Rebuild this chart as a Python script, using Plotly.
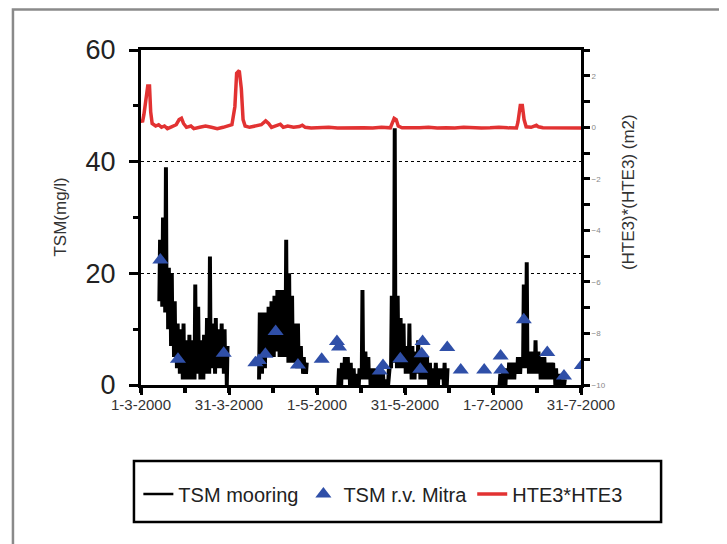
import plotly.graph_objects as go

# ---------------- data ----------------
# x axis: days since 1-3-2000
x_tick_vals = [0, 30, 60, 90, 120, 150]
x_tick_text = ["1-3-2000", "31-3-2000", "1-5-2000", "31-5-2000", "1-7-2000", "31-7-2000"]

# TSM mooring (mg/l): daily min / max envelope of the high-frequency record
mooring_day = [6, 7, 8, 9, 10, 11, 12, 13, 14, 15, 16, 17, 18, 19, 20, 21, 22, 23, 24, 25, 26, 27, 28, 29,
               40, 41, 42, 43, 44, 45, 46, 47, 48, 49, 50, 51, 52, 53, 54, 55, 56,
               67, 68, 69, 70, 71, 72, 73, 74, 75, 76, 77, 78, 79, 80, 81, 82, 83, 84, 85, 86, 87, 88, 89,
               90, 91, 92, 93, 94, 95, 96, 97, 98, 99, 100, 101, 102, 103, 104,
               122, 123, 124, 125, 126, 127, 128, 129, 130, 131, 132, 133, 134, 135, 136, 137, 138, 139,
               140, 141, 142, 143, 144]
mooring_low = [15, 14, 13, 10, 7, 5, 3, 2, 1, 1, 1, 1, 1, 2, 1, 1, 2, 2, 3, 2, 3, 3, 2, 0,
               1, 2, 3, 5, 5, 5, 6, 5, 5, 5, 4, 4, 4, 3, 3, 2, 2,
               0, 0, 1, 1, 0, 0, 0, 0, 1, 1, 1, 0, 0, 0, 0, 0, 0, 0, 3, 4, 3, 3, 3,
               2, 2, 1, 1, 2, 1, 1, 1, 0, 0, 0, 0, 1, 0, 0,
               0, 0, 0, 1, 1, 1, 2, 2, 3, 3, 2, 2, 2, 2, 1, 1, 1, 1,
               1, 0, 0, 0, 0]
mooring_high = [26, 30, 39, 21, 20, 15, 11, 10, 11, 8, 9, 8, 18, 14, 8, 9, 12, 23, 11, 12, 10, 11, 10, 7,
                13, 13, 13, 14, 15, 16, 17, 17, 17, 26, 20, 16, 11, 11, 7, 5, 4,
                3, 4, 5, 5, 4, 3, 2, 3, 17, 6, 5, 3, 3, 2, 3, 2, 1, 3, 16, 46, 16, 12, 11,
                7, 11, 7, 6, 8, 6, 5, 5, 4, 3, 4, 3, 3, 4, 3,
                2, 3, 3, 4, 4, 4, 5, 5, 18, 22, 6, 6, 8, 6, 5, 5, 4, 4,
                4, 3, 2, 1, 1]

# TSM r.v. Mitra (mg/l)
mitra_day = [6.6, 12.6, 28.2, 39.0, 40.2, 42.4, 45.9, 53.5, 61.6, 66.8, 67.5, 81.4, 82.5, 88.4,
             95.2, 95.7, 96.0, 104.4, 109.0, 117.0, 122.6, 122.8, 130.5, 138.5, 144.2, 150.3]
mitra_val = [22.4, 4.6, 5.7, 4.0, 4.4, 5.5, 9.6, 3.6, 4.6, 7.8, 6.8, 2.5, 3.5, 4.7,
             2.8, 5.6, 7.8, 6.7, 2.7, 2.7, 5.2, 2.7, 11.7, 5.8, 1.6, 3.5]

# HTE3*HTE3 (m2), right axis
hte_day = [0, 0.5, 1, 1.8, 2.3, 2.9, 3.3, 3.8, 5, 6, 7, 8, 9, 10, 11, 12, 13, 13.8, 14.5, 15.5,
           17, 18, 20, 22, 24, 26, 28, 30, 31, 32, 32.6, 33.5, 34.2, 34.8, 35.5, 37, 39, 41, 42.5,
           43.5, 44.5, 46, 47.5, 48.5, 50, 52, 54, 55, 56, 58, 61, 64, 67, 70, 73, 76, 79, 82, 85,
           85.5, 86.3, 87, 87.7, 89, 92, 95, 98, 101, 104, 107, 110, 113, 116, 119, 122, 125, 128,
           128.5, 129.3, 130, 130.6, 131.3, 133, 134.8, 135.5, 137, 140, 143, 146, 150]
hte_val = [0.3, 0.2, 0.5, 1.2, 1.6, 1.6, 0.6, 0.15, 0.05, 0.1, 0.0, 0.05, -0.05, 0.0, 0.05, 0.1,
           0.3, 0.35, 0.15, 0.0, 0.05, -0.05, 0.0, 0.05, 0.0, -0.05, 0.0, 0.05, 0.1, 0.8, 2.1, 2.2,
           1.5, 0.3, 0.05, 0.0, 0.05, 0.1, 0.25, 0.15, 0.0, 0.05, 0.12, 0.0, 0.05, 0.0, 0.03, 0.08,
           0.0, -0.03, -0.02, 0.0, -0.03, -0.02, 0.0, -0.02, -0.03, 0.0, -0.02,
           0.1, 0.35, 0.3, 0.05, -0.02, -0.03, -0.02, 0.0, -0.03, -0.02, -0.03, 0.0, -0.02, -0.03,
           -0.02, 0.0, -0.02, -0.03,
           0.2, 0.85, 0.85, 0.3, 0.02, 0.0, 0.08, 0.02, -0.02, -0.03, -0.02, -0.03, -0.03]

# ---------------- build dense zigzag trace for the mooring envelope ----------------
mx, my = [], []
prev = None
for d, lo, hi in zip(mooring_day, mooring_low, mooring_high):
    if prev is not None and d - prev > 1:
        mx.append(None)
        my.append(None)
    mx += [d, d + 0.25, d + 0.5, d + 0.75]
    my += [lo, hi, lo, hi]
    prev = d

FONT = "Liberation Sans, Arial, sans-serif"

fig = go.Figure()
fig.add_trace(go.Scatter(x=mx, y=my, mode="lines", name="TSM mooring",
                         line=dict(color="black", width=2.5), connectgaps=False))
fig.add_trace(go.Scatter(x=mitra_day, y=mitra_val, mode="markers", name="TSM r.v. Mitra",
                         marker=dict(symbol="triangle-up", size=14, color="#2f4fa8", line=dict(width=0))))
fig.add_trace(go.Scatter(x=hte_day, y=hte_val, mode="lines", name="HTE3*HTE3", yaxis="y2",
                         line=dict(color="#e23232", width=3.5)))

# page body has an 8px default margin, so the figure is 8px smaller than the window
fig.update_layout(
    width=719, height=536,
    margin=dict(l=133, r=146, t=42, b=159),
    paper_bgcolor="white", plot_bgcolor="white",
    font=dict(family=FONT, color="#222"),
    showlegend=True,
    legend=dict(orientation="h", x=-0.006, xanchor="left", y=-0.325, yanchor="middle",
                font=dict(size=20, color="#222"), bgcolor="rgba(0,0,0,0)", borderwidth=0,
                itemwidth=30),
    xaxis=dict(range=[0, 150], tickvals=x_tick_vals, ticktext=x_tick_text,
               showline=True, linewidth=3, linecolor="black", mirror=True,
               ticks="outside", ticklen=7, tickwidth=3, tickcolor="black",
               minor=dict(dtick=15, tick0=0, ticks="outside", ticklen=5, tickwidth=4, tickcolor="black"),
               showgrid=False, zeroline=False, ticklabelstandoff=-3,
               tickfont=dict(size=15, color="#333")),
    yaxis=dict(range=[0, 60], tickvals=[0, 20, 40, 60],
               showline=True, linewidth=3, linecolor="black",
               ticks="outside", ticklen=9, tickwidth=3, tickcolor="black",
               minor=dict(dtick=10, tick0=0, ticks="outside", ticklen=5, tickwidth=3, tickcolor="black",
                          showgrid=False),
               showgrid=True, gridcolor="black", gridwidth=1, griddash="dot",
               zeroline=False, ticklabelstandoff=8, tickfont=dict(size=27, color="#222")),
    yaxis2=dict(range=[-10, 3], overlaying="y", side="right", tickvals=[-10, -8, -6, -4, -2, 0, 2],
                showline=True, linewidth=3, linecolor="black",
                ticks="outside", ticklen=6, tickwidth=3, tickcolor="black",
                minor=dict(dtick=1, tick0=0, ticks="outside", ticklen=6, tickwidth=3, tickcolor="black"),
                showgrid=False, zeroline=False,
                tickfont=dict(size=8, color="#888")),
    annotations=[
        dict(text="TSM(mg/l)", xref="paper", yref="paper", x=-0.184, y=0.5, textangle=-90,
             showarrow=False, font=dict(size=17, color="#333"), xanchor="center", yanchor="middle"),
        dict(text="(HTE3)*(HTE3) (m2)", xref="paper", yref="paper", x=1.107, y=0.576, textangle=-90,
             showarrow=False, font=dict(size=17, color="#333"), xanchor="center", yanchor="middle"),
    ],
    shapes=[
        # outer figure frame
        dict(type="rect", xref="paper", yref="paper", x0=-0.291, x1=2.0, y0=-0.6, y1=1.121,
             line=dict(color="#8a8a8a", width=2.5), layer="below"),
        # legend box
        dict(type="rect", xref="paper", yref="paper", x0=-0.016, x1=1.182, y0=-0.409, y1=-0.227,
             line=dict(color="black", width=2.5)),
    ],
)

fig.write_html("out.html")
